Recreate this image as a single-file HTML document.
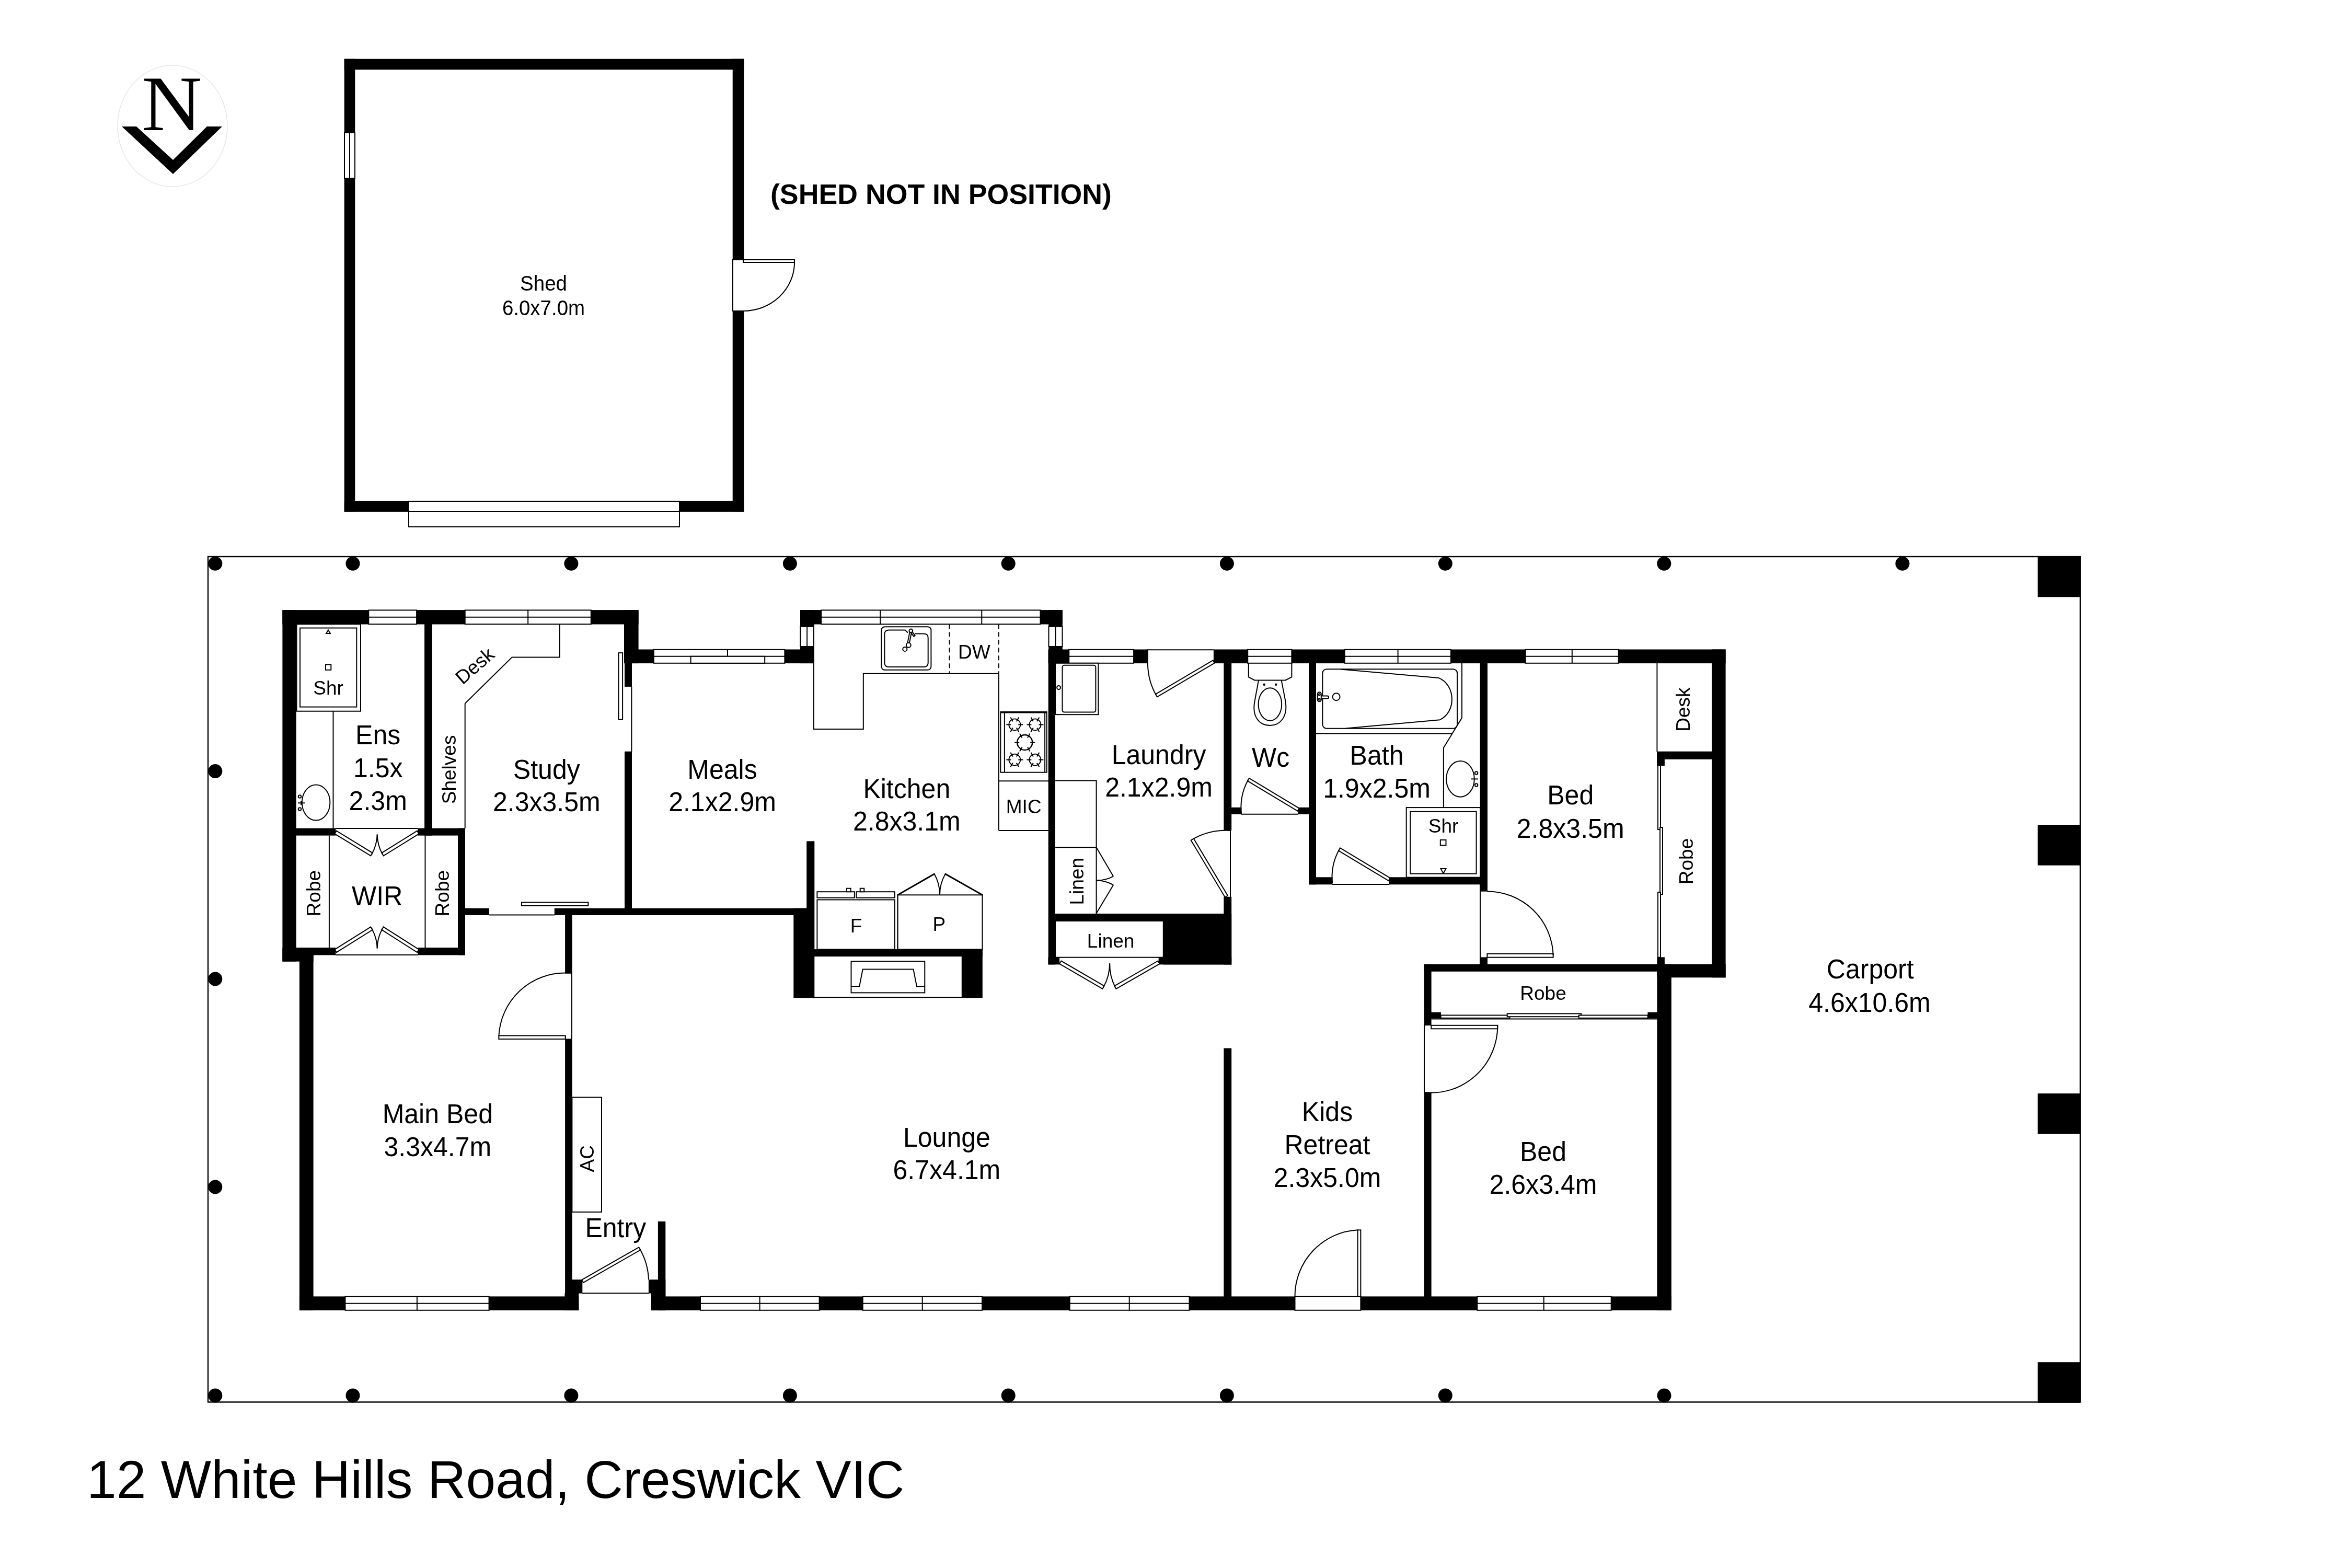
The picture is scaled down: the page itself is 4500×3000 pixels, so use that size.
<!DOCTYPE html>
<html><head><meta charset="utf-8">
<style>
html,body{margin:0;padding:0;background:#fff;}
svg{display:block;will-change:transform;}
text{font-family:"Liberation Sans",sans-serif;fill:#000;}
.w{fill:#000;stroke:none;}
.l{fill:none;stroke:#000;stroke-width:2;}
.lw{fill:#fff;stroke:#000;stroke-width:2;}
.wf{fill:#fff;stroke:none;}
.t{font-size:52px;text-anchor:middle;}
.s{font-size:37px;text-anchor:middle;}
</style></head>
<body>
<svg width="4500" height="3000" viewBox="0 0 4500 3000">
<rect x="0" y="0" width="4500" height="3000" fill="#fff"/>
<ellipse cx="330" cy="241" rx="105" ry="116" fill="none" stroke="#e6e6ee" stroke-width="1.5"/>
<text transform="translate(329,249) scale(1.08,1.02)" x="0" y="0" style="font-family:'Liberation Serif',serif;font-size:148px;text-anchor:middle">N</text>
<polygon class="w" points="233,242 261,242 331,306 396,242 425,242 331,333"/>
<rect class="w" x="658.7" y="112.7" width="764.6" height="20.6"/>
<rect class="w" x="658.7" y="112.7" width="20.6" height="141.6"/>
<rect class="w" x="658.7" y="340.7" width="20.6" height="638.6"/>
<rect class="w" x="658.7" y="958.7" width="123.6" height="20.6"/>
<rect class="w" x="1299.7" y="958.7" width="123.6" height="20.6"/>
<rect class="w" x="1401.7" y="112.7" width="21.6" height="384.6"/>
<rect class="w" x="1401.7" y="594.7" width="21.6" height="384.6"/>
<rect class="lw" x="659.0" y="254.0" width="20.0" height="87.0"/>
<path class="l" d="M669.0,254.0 L669.0,341.0"/>
<rect class="lw" x="782.0" y="959.0" width="518.0" height="20.0"/>
<rect class="lw" x="782.0" y="979.0" width="518.0" height="29.0"/>
<rect class="wf" x="1402.0" y="497.0" width="21.0" height="98.0"/>
<path class="l" d="M1423.0,497.0 L1402.0,497.0 L1402.0,595.0 L1423.0,595.0"/>
<rect class="lw" x="1422.0" y="497.0" width="98.0" height="5.0"/>
<path class="l" d="M1520,502 A98,93 0 0 1 1422,595"/>
<text class="t" transform="translate(1040.0,556.0) scale(0.962,1)" x="0" y="0" style="font-size:40px">Shed</text>
<text class="t" transform="translate(1040.0,603.0) scale(0.962,1)" x="0" y="0" style="font-size:40px">6.0x7.0m</text>
<text x="1474" y="390" style="font-size:54px;font-weight:bold" textLength="653" lengthAdjust="spacingAndGlyphs">(SHED NOT IN POSITION)</text>
<rect x="398" y="1065" width="3582" height="1617.5" fill="none" stroke="#000" stroke-width="2.4"/>
<circle class="w" cx="411.8" cy="1078.3" r="13.5"/>
<circle class="w" cx="675.0" cy="1078.3" r="13.5"/>
<circle class="w" cx="1092.9" cy="1078.3" r="13.5"/>
<circle class="w" cx="1511.4" cy="1078.3" r="13.5"/>
<circle class="w" cx="1929.2" cy="1078.3" r="13.5"/>
<circle class="w" cx="2347.4" cy="1078.3" r="13.5"/>
<circle class="w" cx="2765.3" cy="1078.3" r="13.5"/>
<circle class="w" cx="3183.8" cy="1078.3" r="13.5"/>
<circle class="w" cx="3639.9" cy="1078.3" r="13.5"/>
<circle class="w" cx="411.8" cy="2670.0" r="13.5"/>
<circle class="w" cx="675.0" cy="2670.0" r="13.5"/>
<circle class="w" cx="1092.9" cy="2670.0" r="13.5"/>
<circle class="w" cx="1511.4" cy="2670.0" r="13.5"/>
<circle class="w" cx="1929.2" cy="2670.0" r="13.5"/>
<circle class="w" cx="2347.4" cy="2670.0" r="13.5"/>
<circle class="w" cx="2765.3" cy="2670.0" r="13.5"/>
<circle class="w" cx="3184.0" cy="2670.0" r="13.5"/>
<circle class="w" cx="411.8" cy="1475.5" r="13.5"/>
<circle class="w" cx="411.8" cy="1873.0" r="13.5"/>
<circle class="w" cx="411.8" cy="2271.0" r="13.5"/>
<rect class="w" x="3898.7" y="1064.7" width="81.6" height="77.6"/>
<rect class="w" x="3898.7" y="1578.1" width="81.6" height="77.6"/>
<rect class="w" x="3898.7" y="2092.1" width="81.6" height="77.6"/>
<rect class="w" x="3898.7" y="2606.2" width="81.6" height="77.6"/>
<rect class="w" x="540.4" y="1167.1" width="165.2" height="27.4"/>
<rect class="w" x="796.8" y="1167.1" width="93.2" height="27.4"/>
<rect class="w" x="1130.5" y="1167.1" width="91.1" height="27.4"/>
<rect class="lw" x="705.3" y="1167.4" width="91.8" height="26.8"/>
<path class="l" d="M705.3,1180.8 L797.1,1180.8"/>
<rect class="lw" x="889.7" y="1167.4" width="241.1" height="26.8"/>
<path class="l" d="M889.7,1180.8 L1130.8,1180.8"/>
<path class="l" d="M1010.2,1167.4 L1010.2,1194.2"/>
<rect class="w" x="540.4" y="1167.1" width="26.3" height="672.5"/>
<rect class="w" x="540.4" y="1813.0" width="59.2" height="26.6"/>
<rect class="w" x="572.9" y="1813.0" width="26.7" height="694.1"/>
<rect class="w" x="1194.0" y="1167.1" width="27.6" height="102.0"/>
<rect class="w" x="1194.0" y="1242.5" width="57.1" height="26.6"/>
<rect class="w" x="1501.1" y="1242.5" width="56.1" height="26.6"/>
<rect class="lw" x="1250.8" y="1242.8" width="250.6" height="26.0"/>
<path class="l" d="M1250.8,1255.8 L1501.4,1255.8"/>
<path class="l" d="M1392.0,1242.8 L1392.0,1255.8"/>
<rect class="lw" x="1321.6" y="1255.8" width="141.6" height="13.0"/>
<rect class="w" x="1195.0" y="1268.5" width="14.0" height="45.4"/>
<rect class="w" x="1195.0" y="1437.7" width="14.0" height="313.2"/>
<rect class="w" x="1531.0" y="1167.1" width="40.4" height="27.4"/>
<rect class="w" x="1531.0" y="1167.1" width="26.2" height="32.0"/>
<rect class="w" x="1531.0" y="1236.7" width="26.2" height="32.4"/>
<rect class="lw" x="1531.3" y="1198.8" width="25.6" height="38.2"/>
<path class="l" d="M1544.1,1198.8 L1544.1,1237.0"/>
<rect class="lw" x="1571.1" y="1167.4" width="419.4" height="26.8"/>
<path class="l" d="M1571.1,1180.8 L1990.5,1180.8"/>
<path class="l" d="M1684.3,1167.4 L1684.3,1194.2"/>
<path class="l" d="M1878.3,1167.4 L1878.3,1194.2"/>
<rect class="w" x="1990.2" y="1167.1" width="42.6" height="27.4"/>
<rect class="w" x="2006.2" y="1167.1" width="26.6" height="32.0"/>
<rect class="w" x="2006.2" y="1236.7" width="26.6" height="32.4"/>
<rect class="lw" x="2006.5" y="1198.8" width="26.0" height="38.2"/>
<path class="l" d="M2019.5,1198.8 L2019.5,1237.0"/>
<rect class="w" x="2005.4" y="1242.5" width="40.1" height="26.6"/>
<rect class="w" x="2168.8" y="1242.5" width="27.4" height="26.6"/>
<rect class="w" x="2321.9" y="1242.5" width="65.6" height="26.6"/>
<rect class="w" x="2471.1" y="1242.5" width="102.0" height="26.6"/>
<rect class="w" x="2775.7" y="1242.5" width="143.2" height="26.6"/>
<rect class="w" x="3096.3" y="1242.5" width="205.3" height="26.6"/>
<rect class="lw" x="2045.2" y="1242.8" width="123.9" height="26.0"/>
<path class="l" d="M2045.2,1255.8 L2169.1,1255.8"/>
<rect class="lw" x="2387.2" y="1242.8" width="84.2" height="26.0"/>
<path class="l" d="M2387.2,1255.8 L2471.4,1255.8"/>
<rect class="lw" x="2572.8" y="1242.8" width="203.2" height="26.0"/>
<path class="l" d="M2572.8,1255.8 L2776.0,1255.8"/>
<path class="l" d="M2674.6,1242.8 L2674.6,1268.8"/>
<rect class="lw" x="2918.6" y="1242.8" width="178.0" height="26.0"/>
<path class="l" d="M2918.6,1255.8 L3096.6,1255.8"/>
<path class="l" d="M3007.8,1242.8 L3007.8,1268.8"/>
<rect class="w" x="3275.0" y="1242.5" width="26.6" height="627.8"/>
<rect class="w" x="3170.4" y="1844.8" width="131.2" height="25.5"/>
<rect class="w" x="2724.6" y="1844.8" width="459.7" height="14.0"/>
<rect class="w" x="3170.4" y="1844.8" width="27.4" height="662.3"/>
<rect class="w" x="572.9" y="2480.4" width="87.9" height="26.7"/>
<rect class="w" x="935.3" y="2480.4" width="172.0" height="26.7"/>
<rect class="lw" x="660.5" y="2480.7" width="275.1" height="26.1"/>
<path class="l" d="M660.5,2493.8 L935.6,2493.8"/>
<path class="l" d="M797.9,2480.7 L797.9,2506.8"/>
<rect class="w" x="1245.9" y="2480.4" width="94.4" height="26.7"/>
<rect class="w" x="1567.3" y="2480.4" width="83.7" height="26.7"/>
<rect class="w" x="1878.8" y="2480.4" width="168.2" height="26.7"/>
<rect class="w" x="2275.2" y="2480.4" width="202.6" height="26.7"/>
<rect class="w" x="2603.1" y="2480.4" width="223.5" height="26.7"/>
<rect class="w" x="3082.4" y="2480.4" width="115.4" height="26.7"/>
<rect class="lw" x="1340.0" y="2480.7" width="227.6" height="26.1"/>
<path class="l" d="M1340.0,2493.8 L1567.6,2493.8"/>
<path class="l" d="M1453.6,2480.7 L1453.6,2506.8"/>
<rect class="lw" x="1650.7" y="2480.7" width="228.4" height="26.1"/>
<path class="l" d="M1650.7,2493.8 L1879.1,2493.8"/>
<path class="l" d="M1764.7,2480.7 L1764.7,2506.8"/>
<rect class="lw" x="2046.7" y="2480.7" width="228.8" height="26.1"/>
<path class="l" d="M2046.7,2493.8 L2275.5,2493.8"/>
<path class="l" d="M2160.7,2480.7 L2160.7,2506.8"/>
<rect class="lw" x="2826.3" y="2480.7" width="256.4" height="26.1"/>
<path class="l" d="M2826.3,2493.8 L3082.7,2493.8"/>
<path class="l" d="M2953.7,2480.7 L2953.7,2506.8"/>
<rect class="w" x="812.1" y="1193.9" width="14.8" height="404.7"/>
<rect class="w" x="566.1" y="1584.6" width="76.3" height="14.0"/>
<rect class="w" x="799.5" y="1584.6" width="90.5" height="14.0"/>
<rect class="w" x="876.0" y="1584.6" width="14.0" height="242.8"/>
<rect class="w" x="566.1" y="1813.0" width="76.3" height="14.4"/>
<rect class="w" x="799.5" y="1813.0" width="90.5" height="14.4"/>
<rect class="w" x="889.4" y="1737.7" width="46.5" height="13.2"/>
<rect class="w" x="1060.8" y="1737.7" width="483.0" height="13.2"/>
<rect class="w" x="1081.1" y="1750.3" width="13.6" height="112.3"/>
<rect class="w" x="1081.1" y="1987.5" width="13.6" height="493.5"/>
<rect class="w" x="1518.3" y="1737.7" width="40.0" height="171.6"/>
<rect class="w" x="1543.2" y="1609.4" width="15.1" height="128.9"/>
<rect class="w" x="1557.7" y="1816.1" width="322.1" height="14.0"/>
<rect class="w" x="1839.8" y="1816.1" width="40.0" height="93.2"/>
<path class="l" d="M1558.0,1908.2 L1840.1,1908.2"/>
<rect class="w" x="2005.7" y="1268.5" width="13.1" height="576.9"/>
<rect class="w" x="2018.8" y="1748.0" width="324.0" height="14.3"/>
<rect class="w" x="2225.5" y="1748.0" width="130.7" height="97.4"/>
<rect class="w" x="2005.4" y="1831.4" width="21.7" height="14.0"/>
<rect class="w" x="2341.4" y="1268.5" width="14.8" height="320.5"/>
<rect class="w" x="2341.4" y="1715.8" width="14.8" height="129.6"/>
<rect class="w" x="2355.6" y="1544.8" width="19.7" height="13.2"/>
<rect class="w" x="2483.7" y="1544.8" width="20.9" height="13.2"/>
<rect class="w" x="2504.0" y="1268.5" width="14.0" height="423.8"/>
<rect class="w" x="2504.0" y="1678.3" width="45.4" height="14.0"/>
<rect class="w" x="2657.9" y="1678.3" width="188.1" height="14.0"/>
<rect class="w" x="2831.7" y="1268.5" width="14.3" height="437.2"/>
<rect class="w" x="2831.7" y="1831.4" width="14.3" height="14.0"/>
<rect class="w" x="3170.1" y="1437.7" width="105.5" height="15.1"/>
<rect class="w" x="3170.1" y="1452.2" width="14.8" height="12.9"/>
<rect class="w" x="2724.6" y="1844.8" width="14.0" height="117.3"/>
<rect class="w" x="2724.6" y="2089.7" width="14.0" height="391.3"/>
<rect class="w" x="2341.4" y="2005.5" width="14.8" height="475.5"/>
<rect class="w" x="1258.9" y="2336.9" width="14.4" height="170.2"/>
<rect class="w" x="1093.6" y="2448.2" width="20.7" height="26.4"/>
<rect class="w" x="1240.9" y="2448.2" width="32.4" height="26.4"/>
<rect class="w" x="1246.0" y="2474.0" width="27.3" height="33.1"/>
<rect class="w" x="1080.5" y="2474.0" width="26.8" height="33.1"/>
<path class="l" d="M1114.0,2474.3 L1241.2,2474.3"/>
<rect class="lw" x="567.5" y="1194.2" width="122.5" height="166.5"/>
<rect class="lw" x="574.0" y="1201.5" width="108.3" height="151.1"/>
<polygon class="l" points="628,1205.5 624,1212 632,1212"/>
<rect class="lw" x="623.0" y="1271.5" width="10.3" height="10.3"/>
<path class="l" d="M637.5,1360.7 L637.5,1584.9"/>
<ellipse class="l" cx="604.6" cy="1535.5" rx="26.8" ry="34"/>
<circle class="l" cx="573.5" cy="1524.0" r="2.8"/>
<circle class="l" cx="573.5" cy="1548.0" r="2.8"/>
<path class="l" d="M570.0,1536.3 L583.0,1536.3"/>
<path class="l" d="M576.0,1533.0 L576.0,1540.0"/>
<path class="l" d="M889.7,1346.0 L889.7,1584.9"/>
<path class="l" d="M889.7,1346.0 L979.6,1257.4 L1070.8,1257.4 L1070.8,1194.2"/>
<rect class="lw" x="1183.5" y="1249.1" width="7.6" height="127.6"/>
<path class="l" d="M1208.4,1313.6 L1208.4,1438.0"/>
<rect class="lw" x="998.0" y="1726.5" width="127.4" height="6.5"/>
<path class="l" d="M935.6,1750.6 L1061.1,1750.6"/>
<path class="l" d="M642.1,1584.9 L799.8,1584.9"/>
<path class="l" d="M642.1,1827.1 L799.8,1827.1"/>
<polygon class="lw" points="640.4,1595.3 709.3,1637.4 712.7,1631.8 643.8,1589.7"/>
<polygon class="lw" points="798.1,1589.7 730.3,1631.8 733.7,1637.4 801.5,1595.3"/>
<path class="l" d="M711.0,1634.6 A80.7,80.7 0 0 0 721.7,1596.4"/>
<path class="l" d="M732.0,1634.6 A79.8,79.8 0 0 1 721.7,1596.4"/>
<polygon class="lw" points="643.8,1822.2 712.7,1779.0 709.3,1773.4 640.4,1816.6"/>
<polygon class="lw" points="801.5,1816.7 733.7,1773.5 730.3,1778.9 798.1,1822.1"/>
<path class="l" d="M711.0,1776.2 A81.3,81.3 0 0 1 721.7,1814.5"/>
<path class="l" d="M732.0,1776.2 A80.4,80.4 0 0 0 721.7,1814.5"/>
<path class="l" d="M629.9,1598.3 L629.9,1813.3"/>
<path class="l" d="M813.5,1598.3 L813.5,1813.3"/>
<rect class="lw" x="954.4" y="1981.5" width="127.4" height="6.5"/>
<path class="l" d="M954.4,1981.5 A127,127 0 0 1 1081.8,1861.5"/>
<path class="l" d="M1081.4,1861.5 L1094.0,1861.5 L1094.0,1988.0"/>
<rect class="lw" x="1094.4" y="2099.5" width="56.6" height="219.4"/>
<polygon class="lw" points="1116.2,2453.9 1225.3,2391.5 1222.3,2386.3 1113.2,2448.7"/>
<path class="l" d="M1223.8,2388.9 A126,126 0 0 1 1241,2448.2"/>
<path class="l" d="M1556.9,1194.2 L1556.9,1395.1 L1651.8,1395.1 L1651.8,1288.7 L1910.9,1288.7"/>
<path class="l" d="M1910.9,1288.7 L1910.9,1589.1"/>
<path d="M1816.4,1194.2 V1288.7 M1910.9,1194.2 V1288.7" fill="none" stroke="#000" stroke-width="1.8" stroke-dasharray="9,6"/>
<path class="l" d="M1910.9,1494.2 L2006.5,1494.2"/>
<path class="l" d="M1910.9,1589.1 L2006.5,1589.1"/>
<rect class="lw" x="1914.3" y="1362.0" width="88.4" height="115.7"/>
<path class="l" d="M1921.9,1363.0 L1921.9,1477.0"/>
<path class="l" d="M1999.1,1363.0 L1999.1,1477.0"/>
<path class="l" d="M1914.3,1363.6 L2002.7,1363.6"/>
<circle cx="1941.3" cy="1386.4" r="11" fill="none" stroke="#000" stroke-width="1.8"/>
<path class="l" d="M1948.3,1386.4 L1957.3,1386.4"/>
<path class="l" d="M1944.8,1392.5 L1949.3,1400.3"/>
<path class="l" d="M1937.8,1392.5 L1933.3,1400.3"/>
<path class="l" d="M1934.3,1386.4 L1925.3,1386.4"/>
<path class="l" d="M1937.8,1380.3 L1933.3,1372.5"/>
<path class="l" d="M1944.8,1380.3 L1949.3,1372.5"/>
<circle cx="1980.4" cy="1386.4" r="11" fill="none" stroke="#000" stroke-width="1.8"/>
<path class="l" d="M1987.4,1386.4 L1996.4,1386.4"/>
<path class="l" d="M1983.9,1392.5 L1988.4,1400.3"/>
<path class="l" d="M1976.9,1392.5 L1972.4,1400.3"/>
<path class="l" d="M1973.4,1386.4 L1964.4,1386.4"/>
<path class="l" d="M1976.9,1380.3 L1972.4,1372.5"/>
<path class="l" d="M1983.9,1380.3 L1988.4,1372.5"/>
<circle cx="1960.7" cy="1420.5" r="14.5" fill="none" stroke="#000" stroke-width="2.4"/>
<path class="l" d="M1971.2,1420.5 L1980.2,1420.5"/>
<path class="l" d="M1966.0,1429.6 L1970.5,1437.4"/>
<path class="l" d="M1955.5,1429.6 L1951.0,1437.4"/>
<path class="l" d="M1950.2,1420.5 L1941.2,1420.5"/>
<path class="l" d="M1955.5,1411.4 L1951.0,1403.6"/>
<path class="l" d="M1966.0,1411.4 L1970.5,1403.6"/>
<circle cx="1941.3" cy="1453.6" r="11" fill="none" stroke="#000" stroke-width="1.8"/>
<path class="l" d="M1948.3,1453.6 L1957.3,1453.6"/>
<path class="l" d="M1944.8,1459.7 L1949.3,1467.5"/>
<path class="l" d="M1937.8,1459.7 L1933.3,1467.5"/>
<path class="l" d="M1934.3,1453.6 L1925.3,1453.6"/>
<path class="l" d="M1937.8,1447.5 L1933.3,1439.7"/>
<path class="l" d="M1944.8,1447.5 L1949.3,1439.7"/>
<circle cx="1980.4" cy="1453.6" r="11" fill="none" stroke="#000" stroke-width="1.8"/>
<path class="l" d="M1987.4,1453.6 L1996.4,1453.6"/>
<path class="l" d="M1983.9,1459.7 L1988.4,1467.5"/>
<path class="l" d="M1976.9,1459.7 L1972.4,1467.5"/>
<path class="l" d="M1973.4,1453.6 L1964.4,1453.6"/>
<path class="l" d="M1976.9,1447.5 L1972.4,1439.7"/>
<path class="l" d="M1983.9,1447.5 L1988.4,1439.7"/>
<rect class="l" x="1686.4" y="1199.2" width="95" height="82.6" rx="6.4"/>
<path class="l" d="M1737,1210.5 L1731.6,1205.6 H1700.7 Q1692.4,1205.6 1692.4,1213.9 V1267.8 Q1692.4,1276.1 1700.7,1276.1 H1767.4 Q1775.7,1276.1 1775.7,1267.8 V1221 Q1775.7,1212.6 1767.4,1212.6 H1750"/>
<polygon class="lw" points="1741.1,1206.7 1736.3,1230.7 1739.7,1231.3 1744.5,1207.3"/>
<polygon class="lw" points="1741.8,1208.9 1748.3,1217.9 1750.7,1216.1 1744.2,1207.1"/>
<circle class="lw" cx="1742.8" cy="1206.8" r="3.4"/>
<circle class="lw" cx="1738.3" cy="1234.3" r="4.5"/>
<circle class="lw" cx="1731.3" cy="1242.0" r="4.1"/>
<rect class="lw" x="1563.4" y="1721.5" width="148.5" height="94.9"/>
<rect class="lw" x="1563.4" y="1706.2" width="71.5" height="11.5"/>
<rect class="lw" x="1638.4" y="1706.2" width="73.5" height="11.5"/>
<rect class="lw" x="1620.0" y="1699.7" width="7.7" height="6.5"/>
<rect class="lw" x="1645.7" y="1699.7" width="7.6" height="6.5"/>
<path class="l" d="M1717.6,1712.3 L1717.6,1816.4"/>
<rect class="lw" x="1717.6" y="1712.3" width="161.9" height="104.1"/>
<polygon class="lw" points="1717.8,1712.7 1787.8,1672.5 1787.4,1671.7 1717.4,1711.9"/>
<polygon class="lw" points="1879.7,1711.9 1808.9,1671.7 1808.5,1672.5 1879.3,1712.7"/>
<path class="l" d="M1787.6,1672.1 A80.7,80.7 0 0 1 1798.0,1712.3"/>
<path class="l" d="M1808.7,1672.1 A81.4,81.4 0 0 0 1798.0,1712.3"/>
<rect class="lw" x="1628.5" y="1839.3" width="140.8" height="60.1"/>
<path class="l" d="M1628.5,1887.2 L1644.2,1887.2 L1650.7,1854.6 L1747.5,1854.6 L1754.0,1887.2 L1769.3,1887.2"/>
<rect class="lw" x="2019.1" y="1268.8" width="82.3" height="98.4"/>
<rect class="l" x="2032.5" y="1272.7" width="63.9" height="89.9" rx="4"/>
<circle class="l" cx="2025.6" cy="1315.5" r="3.5"/>
<path class="l" d="M2322.2,1243.2 L2195.9,1243.2 L2195.9,1268.8"/>
<polygon class="lw" points="2320.7,1263.4 2210.9,1328.2 2213.9,1333.4 2323.7,1268.6"/>
<path class="l" d="M2212.4,1330.8 A126,126 0 0 1 2195.9,1268.8"/>
<path class="l" d="M2019.1,1493.4 L2097.6,1493.4 L2097.6,1748.3"/>
<path class="l" d="M2019.1,1621.2 L2097.6,1621.2"/>
<path class="l" d="M2097.6,1621.2 L2130.1,1676.7"/>
<path class="l" d="M2130.1,1676.7 A64.3,64.3 0 0 1 2097.6,1684.4"/>
<path class="l" d="M2097.6,1747.5 L2130.1,1693.2"/>
<path class="l" d="M2130.1,1693.2 A63.3,63.3 0 0 0 2097.6,1684.4"/>
<rect class="lw" x="2019.1" y="1762.0" width="206.7" height="69.7"/>
<rect class="w" x="2216.7" y="1831.4" width="139.5" height="14.0"/>
<polygon class="lw" points="2027.1,1844.1 2109.4,1891.9 2112.6,1886.3 2030.3,1838.5"/>
<polygon class="lw" points="2215.4,1838.5 2132.3,1886.3 2135.5,1891.9 2218.6,1844.1"/>
<path class="l" d="M2111.0,1889.1 A95.2,95.2 0 0 0 2123.2,1843.2"/>
<path class="l" d="M2133.9,1889.1 A95.9,95.9 0 0 1 2123.2,1843.2"/>
<polygon class="lw" points="2348.9,1713.5 2283.8,1604.5 2278.6,1607.5 2343.7,1716.5"/>
<path class="l" d="M2281.2,1606 A127,127 0 0 1 2354,1589"/>
<path class="l" d="M2354.0,1588.7 L2354.0,1716.1"/>
<path class="l" d="M2388.8,1268.8 V1295.3 L2400.4,1301.5 H2459.3 L2471.4,1295.3 V1268.8"/>
<path class="l" d="M2408,1301.5 L2400.5,1342 C2395,1372 2410,1388 2429.8,1388 C2449,1388 2464,1372 2459.5,1342 L2451.7,1301.5"/>
<ellipse class="l" cx="2429.9" cy="1347.5" rx="22.3" ry="31.2"/>
<circle class="w" cx="2418.7" cy="1309.8" r="2.2"/>
<circle class="w" cx="2441.2" cy="1309.8" r="2.2"/>
<polygon class="lw" points="2485.5,1546.4 2389.9,1488.9 2386.9,1494.1 2482.5,1551.6"/>
<path class="l" d="M2388.4,1491.5 A110,110 0 0 0 2375,1557"/>
<path class="l" d="M2375.0,1557.7 L2484.0,1557.7"/>
<path class="l" d="M2517.7,1403.4 L2779.1,1403.4"/>
<path class="l" d="M2797.0,1268.8 L2797.0,1373.4 L2761.9,1430.8 L2761.9,1545.1"/>
<rect class="l" x="2530.4" y="1280.3" width="257.7" height="113.5" rx="7.7"/>
<path class="l" d="M2565,1280.6 L2752.3,1296.9 C2785,1310 2787,1362 2754.9,1377.2 L2575,1393.6"/>
<circle class="l" cx="2556.6" cy="1333.2" r="7.0"/>
<rect class="lw" x="2524" y="1331.4" width="18" height="5" rx="2.5"/>
<rect class="lw" x="2520.8" y="1324.3" width="7" height="18" rx="3.5"/>
<circle class="l" cx="2524.3" cy="1328.8" r="1.6"/>
<circle class="l" cx="2524.3" cy="1338.0" r="1.6"/>
<ellipse class="l" cx="2794" cy="1490.4" rx="26.8" ry="34.4"/>
<circle class="l" cx="2824.6" cy="1479.0" r="2.8"/>
<circle class="l" cx="2824.6" cy="1502.0" r="2.8"/>
<path class="l" d="M2815.0,1490.4 L2828.0,1490.4"/>
<rect class="lw" x="2690.7" y="1545.1" width="141.6" height="133.5"/>
<rect class="lw" x="2698.3" y="1552.8" width="126.3" height="118.9"/>
<polygon class="l" points="2756.5,1662 2766.5,1662 2761.5,1671"/>
<rect class="lw" x="2755.8" y="1607.0" width="10.7" height="10.4"/>
<polygon class="lw" points="2659.7,1679.8 2564.0,1622.4 2561.0,1627.6 2656.7,1685.0"/>
<path class="l" d="M2562.5,1625 A110,110 0 0 0 2549.1,1690"/>
<path class="l" d="M2549.1,1692.0 L2658.2,1692.0"/>
<path class="l" d="M3170.4,1268.8 L3170.4,1438.0"/>
<rect class="lw" x="3172.0" y="1464.8" width="5.0" height="122.2"/>
<rect class="lw" x="3176.0" y="1583.0" width="5.0" height="128.0"/>
<rect class="lw" x="3172.0" y="1707.0" width="5.0" height="124.7"/>
<rect class="w" x="3170.4" y="1831.4" width="14.5" height="14.0"/>
<rect class="lw" x="2845.4" y="1824.8" width="126.3" height="6.9"/>
<path class="l" d="M2971.7,1828 A126.3,126.3 0 0 0 2845.4,1705.4"/>
<path class="l" d="M2832.0,1692.0 L2832.0,1845.1"/>
<path class="l" d="M2738.3,1949.5 L3170.7,1949.5"/>
<rect class="w" x="2738.0" y="1936.6" width="18.9" height="12.1"/>
<rect class="w" x="3152.4" y="1936.6" width="18.6" height="12.1"/>
<rect class="lw" x="2756.6" y="1942.4" width="132.0" height="5.4"/>
<rect class="lw" x="2883.7" y="1939.4" width="141.6" height="5.8"/>
<rect class="lw" x="3020.7" y="1942.4" width="132.0" height="5.4"/>
<rect class="lw" x="2738.3" y="1961.8" width="127.0" height="6.5"/>
<path class="l" d="M2865.3,1962 A127,128 0 0 1 2725,2090"/>
<path class="l" d="M2725.0,1961.8 L2725.0,2090.0"/>
<rect class="lw" x="2477.5" y="2480.7" width="125.9" height="26.1"/>
<rect class="lw" x="2597.7" y="2353.3" width="5.7" height="127.4"/>
<path class="l" d="M2597.7,2353.3 A127,127 0 0 0 2477.5,2480.7"/>
<text class="t" transform="translate(723.2,1423.8) scale(0.962,1)" x="0" y="0">Ens</text>
<text class="t" transform="translate(723.2,1487.0) scale(0.962,1)" x="0" y="0">1.5x</text>
<text class="t" transform="translate(723.2,1550.0) scale(0.962,1)" x="0" y="0">2.3m</text>
<text class="t" transform="translate(1045.8,1489.6) scale(0.962,1)" x="0" y="0">Study</text>
<text class="t" transform="translate(1045.8,1552.0) scale(0.962,1)" x="0" y="0">2.3x3.5m</text>
<text class="t" transform="translate(1382.0,1489.6) scale(0.962,1)" x="0" y="0">Meals</text>
<text class="t" transform="translate(1382.0,1552.0) scale(0.962,1)" x="0" y="0">2.1x2.9m</text>
<text class="t" transform="translate(1734.8,1527.1) scale(0.962,1)" x="0" y="0">Kitchen</text>
<text class="t" transform="translate(1734.8,1589.1) scale(0.962,1)" x="0" y="0">2.8x3.1m</text>
<text class="t" transform="translate(2217.0,1462.0) scale(0.962,1)" x="0" y="0">Laundry</text>
<text class="t" transform="translate(2217.0,1524.0) scale(0.962,1)" x="0" y="0">2.1x2.9m</text>
<text class="t" transform="translate(2431.2,1466.7) scale(0.962,1)" x="0" y="0">Wc</text>
<text class="t" transform="translate(2634.0,1462.8) scale(0.962,1)" x="0" y="0">Bath</text>
<text class="t" transform="translate(2634.0,1526.0) scale(0.962,1)" x="0" y="0">1.9x2.5m</text>
<text class="t" transform="translate(3004.7,1539.4) scale(0.962,1)" x="0" y="0">Bed</text>
<text class="t" transform="translate(3004.7,1602.5) scale(0.962,1)" x="0" y="0">2.8x3.5m</text>
<text class="t" transform="translate(721.7,1732.2) scale(0.962,1)" x="0" y="0">WIR</text>
<text class="t" transform="translate(837.3,2149.0) scale(0.962,1)" x="0" y="0">Main Bed</text>
<text class="t" transform="translate(837.3,2212.1) scale(0.962,1)" x="0" y="0">3.3x4.7m</text>
<text class="t" transform="translate(1811.4,2193.7) scale(0.962,1)" x="0" y="0">Lounge</text>
<text class="t" transform="translate(1811.4,2256.1) scale(0.962,1)" x="0" y="0">6.7x4.1m</text>
<text class="t" transform="translate(2539.5,2145.2) scale(0.962,1)" x="0" y="0">Kids</text>
<text class="t" transform="translate(2539.5,2208.3) scale(0.962,1)" x="0" y="0">Retreat</text>
<text class="t" transform="translate(2539.5,2271.0) scale(0.962,1)" x="0" y="0">2.3x5.0m</text>
<text class="t" transform="translate(2952.5,2220.5) scale(0.962,1)" x="0" y="0">Bed</text>
<text class="t" transform="translate(2952.5,2283.7) scale(0.962,1)" x="0" y="0">2.6x3.4m</text>
<text class="t" transform="translate(3578.2,1871.9) scale(0.962,1)" x="0" y="0">Carport</text>
<text class="t" transform="translate(3577.0,1935.8) scale(0.962,1)" x="0" y="0">4.6x10.6m</text>
<text class="t" transform="translate(1177.8,2366.7) scale(0.962,1)" x="0" y="0">Entry</text>
<text class="s" x="628.0" y="1329.0">Shr</text>
<text class="s" x="2761.5" y="1593.0">Shr</text>
<text class="s" x="1863.8" y="1260.0">DW</text>
<text class="s" x="1958.7" y="1555.8">MIC</text>
<text class="s" x="1638.0" y="1783.9">F</text>
<text class="s" x="1796.8" y="1781.2">P</text>
<text class="s" x="2125.1" y="1813.3">Linen</text>
<text class="s" x="2952.5" y="1912.8">Robe</text>
<text class="s" transform="translate(858.4,1472.4) rotate(-90)" x="0" y="13.3" style="font-size:37px">Shelves</text>
<text class="s" transform="translate(600.0,1709.2) rotate(-90)" x="0" y="13.3" style="font-size:37px">Robe</text>
<text class="s" transform="translate(846.1,1709.2) rotate(-90)" x="0" y="13.3" style="font-size:37px">Robe</text>
<text class="s" transform="translate(3219.8,1357.6) rotate(-90)" x="0" y="13.3" style="font-size:37px">Desk</text>
<text class="s" transform="translate(3226.1,1648.0) rotate(-90)" x="0" y="13.3" style="font-size:37px">Robe</text>
<text class="s" transform="translate(2059.3,1686.3) rotate(-90)" x="0" y="13.3" style="font-size:37px">Linen</text>
<text class="s" transform="translate(1122.4,2216.7) rotate(-90)" x="0" y="13.3" style="font-size:37px">AC</text>
<text class="s" transform="translate(908.0,1273.4) rotate(-41)" x="0" y="13.3" style="font-size:37px">Desk</text>
<text x="166" y="2866" style="font-size:102px">12 White Hills Road, Creswick VIC</text>
</svg>
</body></html>
